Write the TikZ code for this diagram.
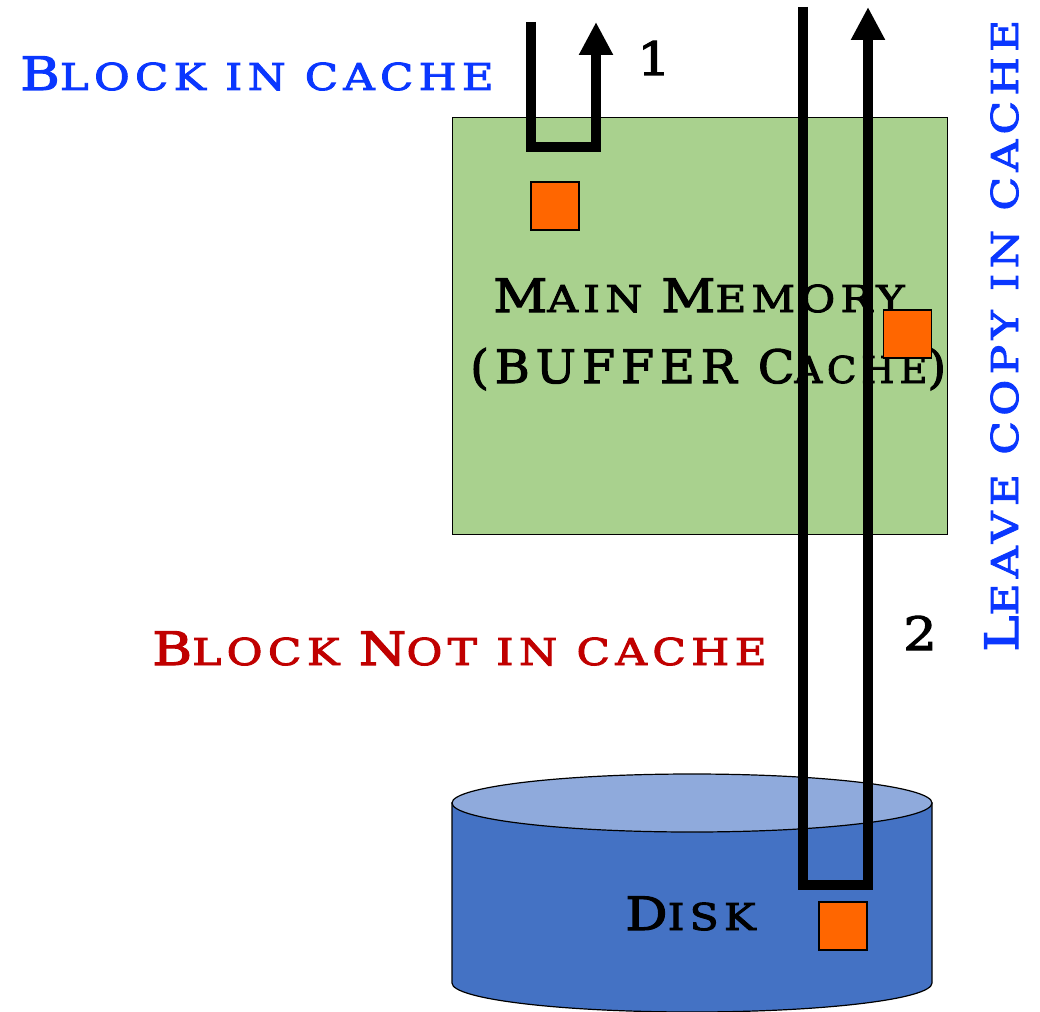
\documentclass[tikz,border=0pt]{standalone}
\usepackage{fontspec}
\usetikzlibrary{arrows.meta}
\newfontfamily\cpf[LetterSpace=14,FakeStretch=1.15,FakeBold=2.5]{DejaVu Serif}
\newcommand\Bg[1]{{\fontsize{46}{46}\selectfont #1}}
\definecolor{memgreen}{HTML}{A9D18E}
\definecolor{blkorange}{HTML}{FF6600}
\definecolor{disktop}{HTML}{8FAADC}
\definecolor{diskbody}{HTML}{4472C4}
\definecolor{lblblue}{HTML}{0A37FF}
\definecolor{lblred}{HTML}{C00000}
\begin{document}
\begin{tikzpicture}[x=1pt,y=-1pt,
  lbl/.style={inner sep=0pt,anchor=base west,font=\cpf\fontsize{37}{40}\selectfont},
  blk/.style={draw=black,line width=1.2pt,fill=blkorange,minimum size=48pt,inner sep=0pt},
  flow/.style={line width=10pt,line join=miter,-{Triangle[width=32pt,length=33pt]}}]
\useasboundingbox (0,0) rectangle (1040,1011);
% main memory
\node[draw=black,line width=1pt,fill=memgreen,minimum width=495pt,minimum height=416pt,inner sep=0pt] (mem) at (699.5,326) {};
\node[lbl] (memt1) at (493,312) {\Bg{M}AIN \Bg{M}EMORY};
\node[lbl] (memt2) at (470,383) {\scalebox{0.905}[1]{\Bg{(BUFFER C}ACHE\Bg{)}}};
% disk
\path[draw=black,line width=1.2pt,fill=diskbody] (452,803) -- (452,983) arc[start angle=180,end angle=360,x radius=240pt,y radius=29pt] -- (932,803) -- cycle;
\draw[line width=1.2pt,fill=disktop] (692,803) ellipse [x radius=240pt,y radius=29pt];
\node[lbl] (disk) at (625,930) {\Bg{D}ISK};
% blocks
\node[blk] (b1) at (555,206) {};
\node[blk] (b2) at (907.5,334) {};
\node[blk] (b3) at (843,926) {};
% arrows
\coordinate (a1s) at (531,22);
\coordinate (a1c) at (596,147);
\coordinate (a1e) at (596,22);
\draw[flow] (a1s) |- (a1c) -- (a1e);
\coordinate (a2s) at (803,7);
\coordinate (a2c) at (868,885);
\coordinate (a2e) at (868,7);
\draw[flow] (a2s) |- (a2c) -- (a2e);
% labels
\node[lbl,text=lblblue] (l1) at (20,90) {\scalebox{1.022}[1]{\Bg{B}LOCK IN CACHE}};
\node[lbl,text=lblred] (l2) at (152,665) {\scalebox{1.03}[1]{\Bg{B}LOCK \Bg{N}OT IN CACHE}};
\node[lbl,text=lblblue,rotate=90] (l3) at (1018,652) {\scalebox{1.033}[1]{\Bg{L}EAVE COPY IN CACHE}};
\node[lbl] (n1) at (637,75) {\Bg{1}};
\node[lbl] (n2) at (903,650) {\Bg{2}};
\end{tikzpicture}
\end{document}
